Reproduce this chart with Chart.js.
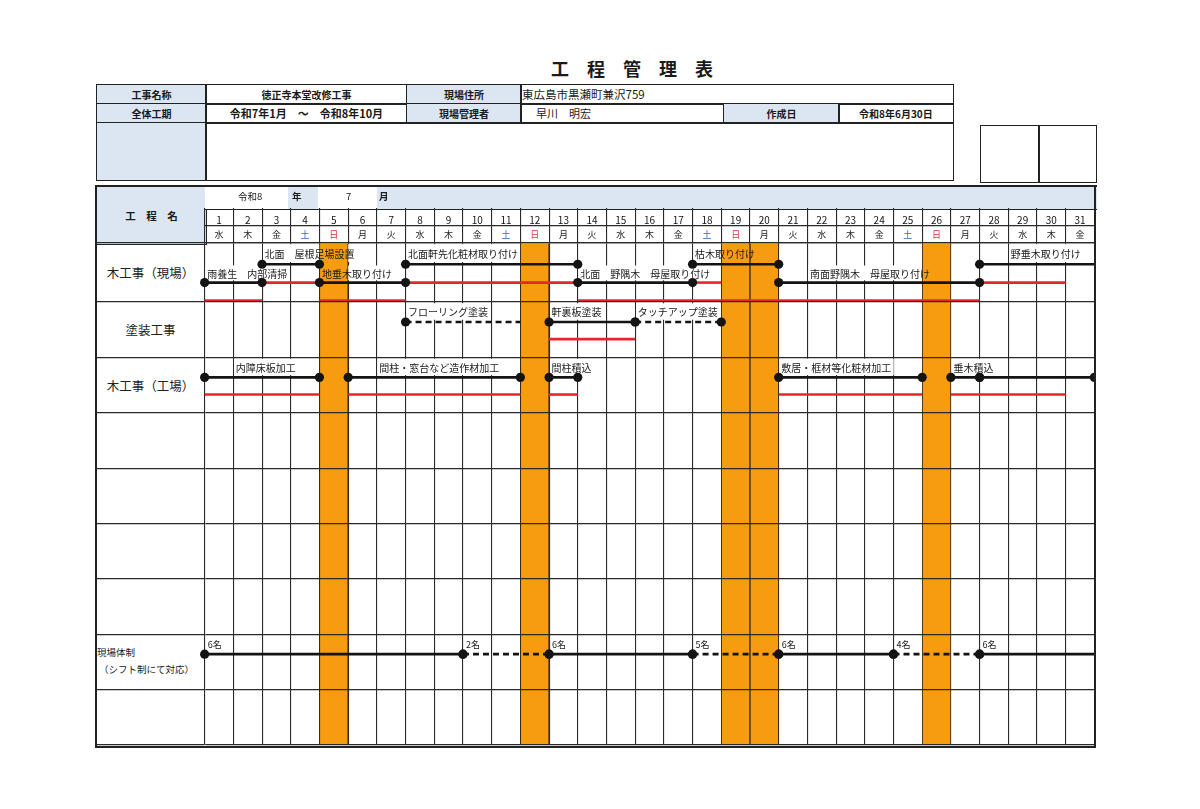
<!DOCTYPE html>
<html lang="ja"><head><meta charset="utf-8"><title>工程管理表</title>
<script src="https://cdn.jsdelivr.net/npm/chart.js@4.4.1/dist/chart.umd.min.js"></script>
<style>
html,body{margin:0;padding:0;background:#fff}
body{width:1200px;height:809px;position:relative;overflow:hidden;font-family:"Noto Sans CJK JP","Noto Sans",sans-serif;color:#1a1a1a}
.a{position:absolute;box-sizing:border-box;white-space:nowrap}
.c{position:absolute;box-sizing:border-box;border:1.8px solid #222;display:flex;align-items:center;white-space:nowrap;overflow:hidden;font-size:10px}
.lb{background:#dce6f2;font-weight:700;justify-content:center}
.ct{justify-content:center}
.bd{font-weight:700}
#title{left:551px;top:56px;font-size:18px;font-weight:700;letter-spacing:18px;line-height:24px}
#wrap{position:absolute;left:96px;top:186px;width:1000px;height:561px;z-index:2}
.rowname{position:absolute;display:flex;align-items:center;justify-content:center;font-size:12.5px;color:#222;z-index:1}
</style></head><body>
<div id="title" class="a">工程管理表</div>
<div id="info"></div>
<div id="wrap"><canvas id="cv" width="1000" height="561"></canvas></div>
<script>
// ---- data ----
const days = ['1','2','3','4','5','6','7','8','9','10','11','12','13','14','15','16','17','18','19','20','21','22','23','24','25','26','27','28','29','30','31'];
const weekdays = ['水','木','金','土','日','月','火','水','木','金','土','日','月','火','水','木','金','土','日','月','火','水','木','金','土','日','月','火','水','木','金'];
const holidays = [5,12,19,20,26];
const rowNames = ['木工事（現場）','塗装工事','木工事（工場）','','','','','現場体制',''];
const staffNote = '（シフト制にて対応）';
const genbaPlan = [
  {track:0, from:2,  to:4,  label:'北面　屋根足場設置', at:2},
  {track:0, from:7,  to:13, label:'北面軒先化粧材取り付け', at:7},
  {track:0, from:17, to:20, label:'枯木取り付け', at:17},
  {track:0, from:27, to:31, label:'野垂木取り付け', at:28, open:true},
  {track:1, from:0,  to:2,  label:'雨養生　内部清掃', at:0},
  {track:1, from:4,  to:7,  label:'地垂木取り付け', at:4},
  {track:1, from:13, to:17, label:'北面　野隅木　母屋取り付け', at:13},
  {track:1, from:20, to:27, label:'南面野隅木　母屋取り付け', at:21}
];
const genbaActual = [
  {track:1, from:2, to:4}, {track:1, from:7, to:13}, {track:1, from:17, to:18}, {track:1, from:27, to:30},
  {track:2, from:0, to:2}, {track:2, from:4, to:7}, {track:2, from:13, to:27}
];
const tousouPlan = [
  {track:0, from:7,  to:11, label:'フローリング塗装', at:7, tentative:true, open:true},
  {track:0, from:12, to:15, label:'軒裏板塗装', at:12},
  {track:0, from:15, to:18, label:'タッチアップ塗装', at:15, tentative:true}
];
const tousouActual = [{track:1, from:12, to:15}];
const koujouPlan = [
  {track:0, from:0,  to:4,  label:'内障床板加工', at:1},
  {track:0, from:5,  to:11, label:'間柱・窓台など造作材加工', at:6},
  {track:0, from:12, to:13, label:'間柱積込', at:12},
  {track:0, from:20, to:25, label:'敷居・框材等化粧材加工', at:20},
  {track:0, from:26, to:27, label:'垂木積込', at:26},
  {track:0, from:27, to:31, label:'', at:27}
];
const koujouActual = [
  {track:1, from:0, to:4}, {track:1, from:5, to:11}, {track:1, from:12, to:13}, {track:1, from:20, to:25}, {track:1, from:26, to:30}
];
const staffPlan = [
  {track:0, from:0,  to:9,  label:'6名', at:0},
  {track:0, from:9,  to:12, label:'2名', at:9, tentative:true},
  {track:0, from:12, to:17, label:'6名', at:12},
  {track:0, from:17, to:20, label:'5名', at:17, tentative:true},
  {track:0, from:20, to:24, label:'6名', at:20},
  {track:0, from:24, to:27, label:'4名', at:24, tentative:true},
  {track:0, from:27, to:31, label:'6名', at:27, open:true}
];

// ---- header (HTML) ----
const info = document.getElementById('info');
function cell(x1,x2,y1,y2,text,cls,extra){
  const d=document.createElement('div');
  d.className='c '+(cls||'');
  d.style.left=x1+'px'; d.style.top=y1+'px';
  d.style.width=(x2-x1+1.8)+'px'; d.style.height=(y2-y1+1.8)+'px';
  if(extra) Object.assign(d.style,extra);
  d.textContent=text||'';
  info.appendChild(d); return d;
}
cell(96,205,84,103,'工事名称','lb');
cell(205,406,84,103,'徳正寺本堂改修工事','ct bd');
cell(406,520,84,103,'現場住所','lb');
cell(520,952,84,103,'東広島市黒瀬町兼沢759','',{fontSize:'11.5px',paddingLeft:'1px'});
cell(96,205,103,122,'全体工期','lb');
cell(205,406,103,122,'令和7年1月　～　令和8年10月','ct bd',{fontSize:'11px'});
cell(406,520,103,122,'現場管理者','lb');
cell(520,723,103,122,'早川　明宏','',{fontSize:'11px',paddingLeft:'15px'});
cell(723,838,103,122,'作成日','lb');
cell(838,952,103,122,'令和8年6月30日','ct bd');
cell(96,205,122,179,'','lb');
cell(205,952,122,179,'');
cell(980,1038,125,181,'');
cell(1038,1095,125,181,'');
// gantt header pieces
cell(95,205,185,243,'工　程　名','lb',{fontSize:'10.5px',borderWidth:'2px 1.4px 1.4px 2px'});
const topRow=[[205,288,'#fff'],[288,318,'#dce6f2'],[318,377,'#fff'],[377,1095,'#dce6f2']];
topRow.forEach(s=>{cell(s[0],s[1],185,208,'','',{background:s[2],borderWidth:'2px 0 1.3px 0'});});
const topTexts=[[238,'令和8',400],[292,'年',700],[346,'7',400],[379,'月',700]];
topTexts.forEach(t=>{const d=document.createElement('div');d.className='a';d.style.cssText='left:'+t[0]+'px;top:189px;font-size:9.5px;line-height:14px;font-weight:'+t[2]+';z-index:3';d.textContent=t[1];document.body.appendChild(d);});
const frame=document.createElement('div');frame.className='a';frame.style.cssText='left:95px;top:185px;width:1001px;height:563px;border:2px solid #222;z-index:4';document.body.appendChild(frame);

// ---- chart ----
const firstRowExtra=0.067; // the first row of the sheet is a little taller
function rowTop(r){return r===0?0:r+firstRowExtra;}
function rowBottom(r){return r+1+firstRowExtra;}
function rowY(r,f){return rowTop(r)+f*(rowBottom(r)-rowTop(r));}
const trackFrac=[0.36,0.67,0.975];
const rowEdges=[0].concat(rowNames.map((_,i)=>rowBottom(i)));
const planGroups=[[genbaPlan,0],[tousouPlan,1],[koujouPlan,2],[staffPlan,7]];
const actualGroups=[[genbaActual,0],[tousouActual,1],[koujouActual,2]];
const FONT='"Noto Sans CJK JP","Noto Sans",sans-serif';
const datasets=[];
datasets.push({type:'bar',data:holidays.map(d=>({x:d-0.5,y:[0,rowBottom(rowNames.length-1)]})),backgroundColor:'#f69c0e',borderColor:'#3a2a10',borderWidth:{left:1,right:1,top:0,bottom:0},borderSkipped:false,barPercentage:1,categoryPercentage:1,order:10,xAxisID:'x',yAxisID:'y'});
actualGroups.forEach(([list,row])=>list.forEach(s=>{
  const y=rowY(row,trackFrac[s.track]);
  datasets.push({type:'line',data:[{x:s.from,y:y},{x:s.to,y:y}],borderColor:'#e6262d',borderWidth:2.6,pointRadius:0,pointHoverRadius:0,clip:false,order:2,xAxisID:'x',yAxisID:'y'});
}));
planGroups.forEach(([list,row])=>list.forEach(s=>{
  const y=rowY(row,trackFrac[s.track]);
  datasets.push({type:'line',data:[{x:s.from,y:y},{x:s.to,y:y}],borderColor:'#141414',borderWidth:2.7,borderDash:s.tentative?[6,4]:[],pointRadius:[4.6,s.open?0:4.6],pointHoverRadius:0,pointBackgroundColor:'#141414',pointBorderWidth:0,clip:false,order:1,xAxisID:'x',yAxisID:'y'});
}));

function labelItems(chart){
  const xs=chart.scales.x, ys=chart.scales.y, ctx=chart.ctx, out=[];
  planGroups.forEach(([list,row])=>list.forEach(s=>{
    if(!s.label) return;
    const small=(row===7);
    const yLine=ys.getPixelForValue(rowY(row,trackFrac[s.track]));
    const yTop=ys.getPixelForValue(rowY(row,s.track===0?0:trackFrac[s.track-1]));
    const font=(small?'9px ':'10px ')+FONT;
    ctx.save();ctx.font=font;const w=ctx.measureText(s.label).width;ctx.restore();
    const x=xs.getPixelForValue(s.at)+(small?3:2.5);
    out.push({text:s.label,x:x,y:(yTop+yLine)/2+0.5,w:w,font:font,box:!small,yTop:yTop,yLine:yLine});
  }));
  return out;
}
const labelPlugin={
  id:'taskLabels',
  beforeDatasetsDraw(chart){
    const ctx=chart.ctx;ctx.save();ctx.fillStyle='#fff';
    labelItems(chart).forEach(l=>{if(l.box) ctx.fillRect(l.x-1.5,l.yTop+1.2,l.w+4,l.yLine-l.yTop-3.5);});
    ctx.restore();
  },
  afterDatasetsDraw(chart){
    const ctx=chart.ctx;ctx.save();ctx.fillStyle='#1a1a1a';ctx.textBaseline='middle';ctx.textAlign='left';
    labelItems(chart).forEach(l=>{ctx.font=l.font;ctx.fillText(l.text,l.x,l.y);});
    ctx.restore();
  }
};
const GRID='#2a2a2a';
const chart=new Chart(document.getElementById('cv'),{
  type:'line',
  data:{datasets:datasets},
  plugins:[labelPlugin],
  options:{
    responsive:false,animation:false,
    layout:{padding:{left:0,right:1.6,top:22,bottom:2},autoPadding:false},
    plugins:{legend:{display:false},tooltip:{enabled:false}},
    events:[],
    scales:{
      x:{type:'linear',display:false,min:0,max:31,offset:false,ticks:{stepSize:1},grid:{offset:false}},
      xWeek:{type:'category',labels:weekdays,position:'top',weight:0,offset:true,
        grid:{offset:true,drawOnChartArea:true,drawTicks:true,tickLength:17,color:GRID,lineWidth:1.1},
        border:{display:true,color:GRID,width:1.3},
        ticks:{autoSkip:false,maxRotation:0,minRotation:0,padding:-13.9,font:{size:9,family:FONT},
          color:(c)=>{const w=weekdays[c.index];return w==='土'?'#3b63c9':(w==='日'?'#e3303a':'#222');}},
        afterFit:(s)=>{s.height=17;}},
      xDay:{type:'category',labels:days,position:'top',weight:1,offset:true,
        grid:{offset:true,drawOnChartArea:false,drawTicks:true,tickLength:18,color:GRID,lineWidth:1.1},
        border:{display:true,color:GRID,width:1.3},
        ticks:{autoSkip:false,maxRotation:0,minRotation:0,padding:-18,font:{size:10,family:FONT},color:'#111'},
        afterFit:(s)=>{s.height=18;}},
      y:{type:'linear',position:'left',min:0,max:rowBottom(rowNames.length-1),reverse:true,
        ticks:{display:false},
        afterBuildTicks:(s)=>{s.ticks=rowEdges.map(v=>({value:v}));},
        grid:{color:GRID,lineWidth:1.2,tickLength:109,drawTicks:true,z:1},
        border:{display:true,color:GRID,width:1.3},
        afterFit:(s)=>{s.width=108.65;}}
    }
  }
});

// ---- left column names placed from the y scale ----
const ys=chart.scales.y, OY=186, OX=96;
rowNames.forEach((n,i)=>{
  if(!n||i===7) return;
  const t=ys.getPixelForValue(rowTop(i))+OY, b=ys.getPixelForValue(rowBottom(i))+OY;
  const d=document.createElement('div');d.className='rowname';
  d.style.left=OX+'px';d.style.width='109px';d.style.top=t+'px';d.style.height=(b-t)+'px';
  d.textContent=n;document.body.appendChild(d);
});
(function(){
  const t=ys.getPixelForValue(rowTop(7))+OY;
  const a=document.createElement('div');a.className='a';a.style.cssText='left:97px;top:'+(t+11)+'px;font-size:9.5px;line-height:14px;z-index:1';a.textContent=rowNames[7];document.body.appendChild(a);
  const b=document.createElement('div');b.className='a';b.style.cssText='left:99px;top:'+(t+28)+'px;font-size:9.5px;line-height:14px;z-index:1';b.textContent=staffNote;document.body.appendChild(b);
})();
</script>
</body></html>
